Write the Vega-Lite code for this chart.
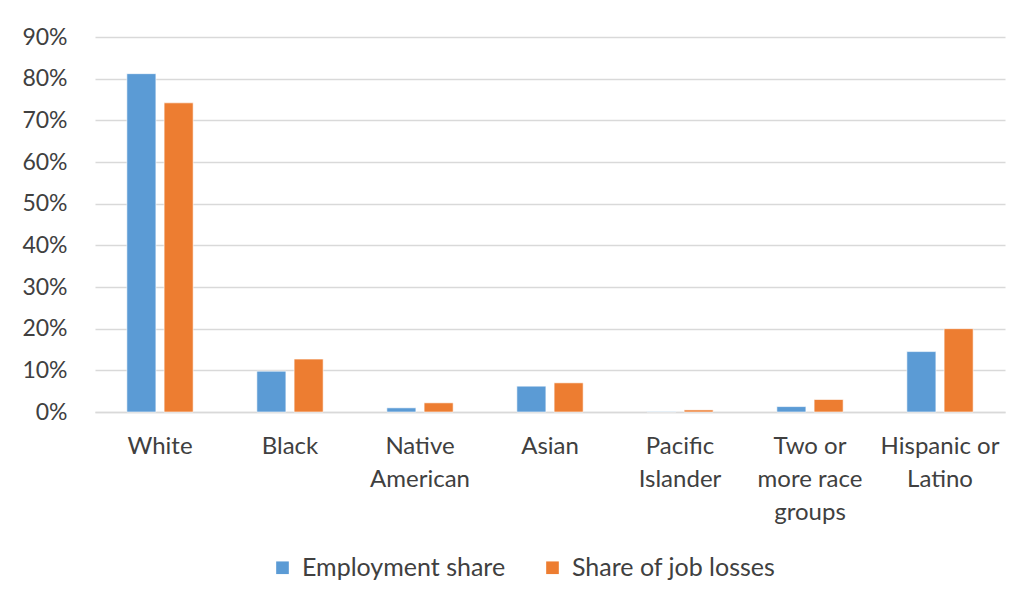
{
  "$schema": "https://vega.github.io/schema/vega-lite/v6.json",
  "width": 910,
  "height": 375,
  "autosize": {"type": "none"},
  "padding": {"left": 95, "top": 37, "right": 13, "bottom": 187},
  "background": "white",
  "config": {
    "view": {"stroke": null},
    "font": "Lato",
    "axis": {"labelFont": "Lato", "labelColor": "#404040", "labelFontSize": 23}
  },
  "data": {
    "values": [
      {"group": "White", "series": "Employment share", "value": 0.812},
      {"group": "White", "series": "Share of job losses", "value": 0.742},
      {"group": "Black", "series": "Employment share", "value": 0.098},
      {"group": "Black", "series": "Share of job losses", "value": 0.127},
      {"group": "Native American", "series": "Employment share", "value": 0.010},
      {"group": "Native American", "series": "Share of job losses", "value": 0.022},
      {"group": "Asian", "series": "Employment share", "value": 0.062},
      {"group": "Asian", "series": "Share of job losses", "value": 0.070},
      {"group": "Pacific Islander", "series": "Employment share", "value": 0.001},
      {"group": "Pacific Islander", "series": "Share of job losses", "value": 0.005},
      {"group": "Two or more race groups", "series": "Employment share", "value": 0.013},
      {"group": "Two or more race groups", "series": "Share of job losses", "value": 0.030},
      {"group": "Hispanic or Latino", "series": "Employment share", "value": 0.145},
      {"group": "Hispanic or Latino", "series": "Share of job losses", "value": 0.200}
    ]
  },
  "mark": {"type": "bar", "stroke": "white", "strokeWidth": 1, "strokeOpacity": 0.6},
  "encoding": {
    "x": {
      "field": "group",
      "type": "nominal",
      "sort": null,
      "title": null,
      "scale": {"paddingInner": 0.49, "paddingOuter": 0.245},
      "axis": {
        "labelAngle": 0,
        "ticks": false,
        "domainColor": "#d9d9d9",
        "domainWidth": 1.5,
        "labelFontSize": 24,
        "labelPadding": 22,
        "labelLineHeight": 33,
        "labelBaseline": "top",
        "labelExpr": "datum.label == 'Native American' ? ['Native','American'] : datum.label == 'Pacific Islander' ? ['Pacific','Islander'] : datum.label == 'Two or more race groups' ? ['Two or','more race','groups'] : datum.label == 'Hispanic or Latino' ? ['Hispanic or','Latino'] : datum.label"
      }
    },
    "xOffset": {"field": "series", "type": "nominal", "scale": {"paddingInner": 0.22}},
    "y": {
      "field": "value",
      "type": "quantitative",
      "title": null,
      "scale": {"domain": [0, 0.9], "nice": false},
      "axis": {
        "format": ".0%",
        "values": [0, 0.1, 0.2, 0.3, 0.4, 0.5, 0.6, 0.7, 0.8, 0.9],
        "ticks": false,
        "domain": false,
        "gridColor": "#d9d9d9",
        "gridWidth": 1.5,
        "labelPadding": 28
      }
    },
    "color": {
      "field": "series",
      "type": "nominal",
      "scale": {"domain": ["Employment share", "Share of job losses"], "range": ["#5B9BD5", "#ED7D31"]},
      "legend": {
        "title": null,
        "orient": "none",
        "legendX": 175,
        "legendY": 518,
        "direction": "horizontal",
        "symbolType": "square",
        "symbolSize": 160,
        "symbolStrokeWidth": 0,
        "labelFontSize": 25,
        "labelLimit": 400,
        "labelColor": "#404040",
        "labelFont": "Lato",
        "columnPadding": 34,
        "labelOffset": 7
      }
    }
  }
}
